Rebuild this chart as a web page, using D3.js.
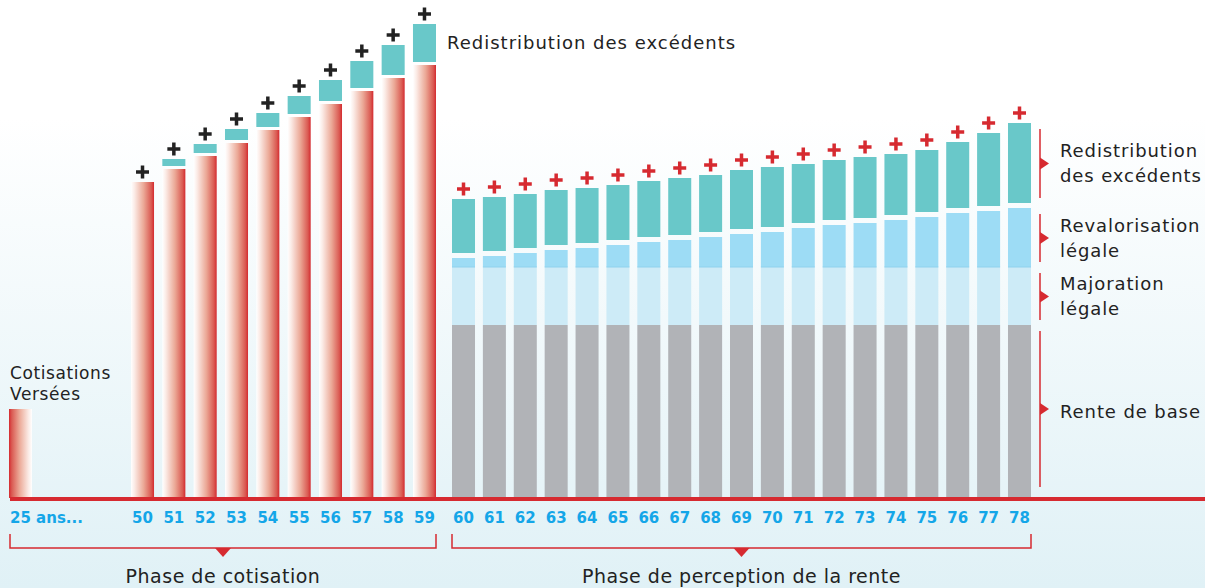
<!DOCTYPE html>
<html>
<head>
<meta charset="utf-8">
<script src="https://cdn.jsdelivr.net/npm/d3@7"></script>
<style>
  html, body { margin: 0; padding: 0; overflow: hidden; }
  body { width: 1205px; height: 588px; }
  svg { display: block; font-family: 'DejaVu Sans', sans-serif; }
</style>
</head>
<body>
<div id="chart"></div>
<script>
// --- data (heights, arbitrary units) ---
const debutLabel = '25 ans...';
const debutCotisation = 89;

const agesCotisation = ['50', '51', '52', '53', '54', '55', '56', '57', '58', '59'];
const cotisations = [316, 329, 342, 355, 368, 381, 394, 407, 420, 433];
const excedentsCotisation = [0, 7, 9, 11, 14, 18, 21, 27, 30, 38];

const agesRente = ['60', '61', '62', '63', '64', '65', '66', '67', '68', '69',
                   '70', '71', '72', '73', '74', '75', '76', '77', '78'];
const renteBase = [173, 173, 173, 173, 173, 173, 173, 173, 173, 173,
                   173, 173, 173, 173, 173, 173, 173, 173, 173];
const majoration = [58, 58, 58, 58, 58, 58, 58, 58, 58, 58,
                    58, 58, 58, 58, 58, 58, 58, 58, 58];
const revalorisation = [9, 11, 14, 17, 19, 22, 25, 27, 30, 33,
                        35, 39, 42, 44, 47, 50, 54, 56, 59];
const excedentsRente = [54, 54, 54, 55, 55, 55, 56, 57, 57, 59,
                        60, 59, 60, 61, 61, 62, 66, 73, 80];

const serieLabels = [
  ['Redistribution', 'des excédents'],
  ['Revalorisation', 'légale'],
  ['Majoration', 'légale'],
  ['Rente de base']
];
const topLabel = 'Redistribution des excédents';
const debutTitle = ['Cotisations', 'Versées'];
const phaseLabels = ['Phase de cotisation', 'Phase de perception de la rente'];

// --- layout ---
const W = 1205, H = 588;
const base = 498;
const red = '#d62a30', teal = '#69c8c9', reval = '#9ddcf5', major = '#cdebf7', grey = '#b1b3b7';
const tickBlue = '#14a6e8', ink = '#222';

const svg = d3.select('#chart').append('svg')
  .attr('width', W)
  .attr('height', H);

const defs = svg.append('defs');
const bg = defs.append('linearGradient').attr('id', 'bg').attr('x1', 0).attr('x2', 0).attr('y1', 0).attr('y2', 1);
bg.append('stop').attr('offset', 0).attr('stop-color', '#ffffff');
bg.append('stop').attr('offset', 0.2).attr('stop-color', '#ffffff');
bg.append('stop').attr('offset', 1).attr('stop-color', '#e0f1f6');

function redGradient(id, reverse) {
  const g = defs.append('linearGradient').attr('id', id)
    .attr('x1', reverse ? 1 : 0).attr('x2', reverse ? 0 : 1).attr('y1', 0).attr('y2', 0);
  [[0, '#ffffff'], [0.15, '#fbebe6'], [0.55, '#eba896'], [0.88, '#da5a52'], [1, '#d42a2f']]
    .forEach(s => g.append('stop').attr('offset', s[0]).attr('stop-color', s[1]));
}
redGradient('redGrad', false);
redGradient('redGradRev', true);

svg.append('rect').attr('width', W).attr('height', H).attr('fill', 'url(#bg)');

const y = d3.scaleLinear().domain([0, base]).range([base, 0]);

const xCot = d3.scaleBand().domain(agesCotisation).range([131, 436]).paddingInner(0.265).paddingOuter(0);
const xRente = d3.scaleBand().domain(agesRente).range([452, 1031]).paddingInner(0.255).paddingOuter(0);

function plus(g, cx, cy, color) {
  g.append('path')
    .attr('d', `M${cx - 6.5},${cy}H${cx + 6.5}M${cx},${cy - 6.5}V${cy + 6.5}`)
    .attr('stroke', color)
    .attr('stroke-width', 3.5)
    .attr('fill', 'none');
}

// --- premier versement (25 ans) ---
svg.append('rect')
  .attr('x', 9).attr('width', 23)
  .attr('y', y(debutCotisation)).attr('height', base - y(debutCotisation))
  .attr('fill', 'url(#redGradRev)');

// --- phase de cotisation ---
const gapCot = 3;
const cot = svg.append('g');
agesCotisation.forEach((a, i) => {
  const x = xCot(a), bw = xCot.bandwidth();
  const top = y(cotisations[i]);
  cot.append('rect').attr('x', x).attr('width', bw)
    .attr('y', top).attr('height', base - top)
    .attr('fill', 'url(#redGrad)');
  let peak = top;
  if (excedentsCotisation[i] > 0) {
    const h = y(0) - y(excedentsCotisation[i]);
    peak = top - gapCot - h;
    cot.append('rect').attr('x', x).attr('width', bw)
      .attr('y', peak).attr('height', h)
      .attr('fill', teal);
  }
  plus(cot, x + bw / 2, peak - 10, ink);
});

// --- phase de rente ---
const gapRente = 5;
const rente = svg.append('g');
const stacks = agesRente.map((a, i) => {
  const b = y(renteBase[i]);
  const m = y(renteBase[i] + majoration[i]);
  const r = y(renteBase[i] + majoration[i] + revalorisation[i]);
  const tb = r - gapRente;
  const tt = tb - (y(0) - y(excedentsRente[i]));
  return { a, b, m, r, tb, tt };
});
stacks.forEach(s => {
  const x = xRente(s.a), bw = xRente.bandwidth();
  rente.append('rect').attr('x', x).attr('width', bw).attr('y', s.b).attr('height', base - s.b).attr('fill', grey);
  rente.append('rect').attr('x', x).attr('width', bw).attr('y', s.m).attr('height', s.b - s.m).attr('fill', major);
  rente.append('rect').attr('x', x).attr('width', bw).attr('y', s.r).attr('height', s.m - s.r).attr('fill', reval);
  rente.append('rect').attr('x', x).attr('width', bw).attr('y', s.m - 0.5).attr('height', 1).attr('fill', '#8fd2ee');
  rente.append('rect').attr('x', x).attr('width', bw).attr('y', s.tt).attr('height', s.tb - s.tt).attr('fill', teal);
  plus(rente, x + bw / 2, s.tt - 10, red);
});

// --- axe ---
svg.append('rect').attr('x', 10).attr('y', 497).attr('width', W - 10).attr('height', 4).attr('fill', red);

const ticks = svg.append('g')
  .attr('font-size', 15).attr('font-weight', 'bold').attr('fill', tickBlue);
ticks.append('text').attr('x', 10).attr('y', 523).text(debutLabel);
agesCotisation.forEach(a => ticks.append('text')
  .attr('x', xCot(a) + xCot.bandwidth() / 2).attr('y', 523)
  .attr('text-anchor', 'middle').text(a));
agesRente.forEach(a => ticks.append('text')
  .attr('x', xRente(a) + xRente.bandwidth() / 2).attr('y', 523)
  .attr('text-anchor', 'middle').text(a));

// --- accolades des phases ---
const phases = [
  [10, xCot(agesCotisation[agesCotisation.length - 1]) + xCot.bandwidth()],
  [xRente(agesRente[0]), xRente(agesRente[agesRente.length - 1]) + xRente.bandwidth()]
];
phases.forEach((p, i) => {
  const cx = (p[0] + p[1]) / 2;
  svg.append('path')
    .attr('d', `M${p[0]},534V548H${p[1]}V534`)
    .attr('fill', 'none').attr('stroke', red).attr('stroke-width', 1.5);
  svg.append('path')
    .attr('d', `M${cx - 8},548L${cx + 8},548L${cx},557Z`)
    .attr('fill', red);
  svg.append('text')
    .attr('x', cx).attr('y', 583)
    .attr('text-anchor', 'middle')
    .attr('font-size', 19).attr('letter-spacing', 0.5).attr('fill', ink)
    .text(phaseLabels[i]);
});

// --- légende droite ---
const last = stacks[stacks.length - 1];
const segs = [[last.tt, last.tb], [last.r, last.m], [last.m, last.b], [last.b, base]];
const leg = svg.append('g');
segs.forEach((s, i) => {
  const y0 = s[0] + 6, y1 = s[1] - (i === 3 ? 11 : 5);
  const mid = (y0 + y1) / 2;
  leg.append('line').attr('x1', 1040).attr('x2', 1040).attr('y1', y0).attr('y2', y1)
    .attr('stroke', red).attr('stroke-width', 1.5);
  leg.append('path').attr('d', `M1040,${mid - 6}L1049,${mid}L1040,${mid + 6}Z`).attr('fill', red);
  const lines = serieLabels[i];
  const cy = (s[0] + s[1]) / 2;
  lines.forEach((t, j) => {
    leg.append('text')
      .attr('x', 1060)
      .attr('y', cy + 6.5 + (j - (lines.length - 1) / 2) * 25)
      .attr('font-size', 18).attr('letter-spacing', 0.9).attr('fill', ink)
      .text(t);
  });
});

// --- libellés ---
svg.append('text')
  .attr('x', 447).attr('y', 49)
  .attr('font-size', 18).attr('letter-spacing', 1).attr('fill', ink)
  .text(topLabel);

debutTitle.forEach((t, j) => svg.append('text')
  .attr('x', 10).attr('y', 379 + j * 21)
  .attr('font-size', 17).attr('letter-spacing', 0.6).attr('fill', ink)
  .text(t));
</script>
</body>
</html>
